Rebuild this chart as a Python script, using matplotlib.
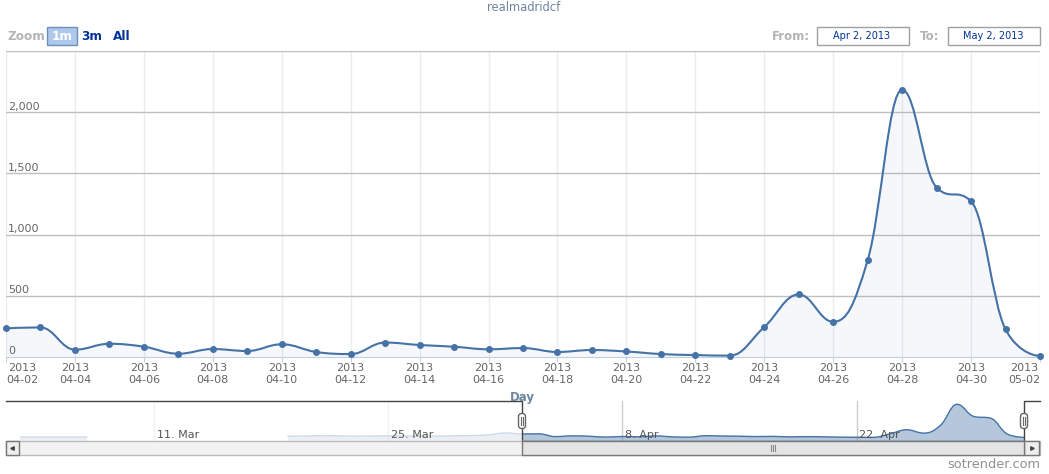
import matplotlib
matplotlib.use('Agg')
import matplotlib.pyplot as plt
from matplotlib.path import Path
from matplotlib.patches import PathPatch, Rectangle, FancyBboxPatch

# daily values 2013-04-02 .. 2013-05-02 (day 0 = Apr 2)
days = list(range(31))
values = [234, 242, 60, 108, 84, 27, 65, 49, 104, 41, 24, 118, 98, 84, 63, 73,
          41, 57, 45, 24, 16, 11, 245, 511, 288, 791, 2183, 1384, 1272, 226, 8]

tick_days = list(range(0, 31, 2))
tick_labels = ['2013\n04-%02d' % d for d in range(2, 31, 2)] + ['2013\n05-02']
y_ticks = [500, 1000, 1500, 2000, 2500]
y_labels = ['0', '500', '1,000', '1,500', '2,000']

# earlier data only shown in the navigator (days before Apr 2)
early_days_a = [-30, -29, -28, -27, -26]
early_vals_a = [30, 30, 30, 30, 30]
early_days_b = [-14, -13, -12, -11, -10, -9, -8, -7, -6, -5, -4, -3, -2, -1]
early_vals_b = [80, 100, 120, 110, 90, 100, 110, 100, 90, 100, 110, 130, 170, 300]

nav_ticks = [-22, -8, 6, 20]
nav_labels = ['11. Mar', '25. Mar', '8. Apr', '22. Apr']

line_col = '#4572A7'


def spline(xs, ys, smoothing=1.5):
    # highcharts style spline control points
    n = len(xs)
    left = [None] * n
    right = [None] * n
    for i in range(1, n - 1):
        x, y = xs[i], ys[i]
        lx, ly = xs[i - 1], ys[i - 1]
        nx, ny = xs[i + 1], ys[i + 1]
        d = smoothing + 1
        lcx = (smoothing * x + lx) / d
        lcy = (smoothing * y + ly) / d
        rcx = (smoothing * x + nx) / d
        rcy = (smoothing * y + ny) / d
        corr = (rcy - lcy) * (rcx - x) / (rcx - lcx) + y - rcy
        lcy += corr
        rcy += corr
        if lcy > ly and lcy > y:
            lcy = max(ly, y); rcy = 2 * y - lcy
        elif lcy < ly and lcy < y:
            lcy = min(ly, y); rcy = 2 * y - lcy
        if rcy > ny and rcy > y:
            rcy = max(ny, y); lcy = 2 * y - rcy
        elif rcy < ny and rcy < y:
            rcy = min(ny, y); lcy = 2 * y - rcy
        left[i] = (lcx, lcy)
        right[i] = (rcx, rcy)
    verts = [(xs[0], ys[0])]
    codes = [Path.MOVETO]
    for i in range(1, n):
        c1 = right[i - 1] or (xs[i - 1], ys[i - 1])
        c2 = left[i] or (xs[i], ys[i])
        verts += [c1, c2, (xs[i], ys[i])]
        codes += [Path.CURVE4] * 3
    return verts, codes


def area_spline(ax, xs, ys, base, lw, fc, z=2):
    v, c = spline(xs, ys)
    ax.add_patch(PathPatch(Path(v, c), fill=False, ec=line_col, lw=lw, zorder=z + 1,
                           capstyle='round', joinstyle='round'))
    fv = [(xs[0], base)] + v + [(xs[-1], base), (xs[0], base)]
    fcodes = [Path.MOVETO] + [Path.LINETO] + c[1:] + [Path.LINETO, Path.CLOSEPOLY]
    ax.add_patch(PathPatch(Path(fv, fcodes), fc=fc, ec='none', zorder=z))


W, H = 1049, 474
fig = plt.figure(figsize=(W / 100, H / 100), dpi=100)
plt.rcParams['font.family'] = 'DejaVu Sans'

# ---- main chart
ax = fig.add_axes([6 / W, 1 - 357 / H, 1034 / W, 306 / H])
ax.set_xlim(0, 30)
ax.set_ylim(0, 2500)
for s in ['top', 'left', 'right']:
    ax.spines[s].set_visible(False)
ax.spines['bottom'].set_color('#C0D0E0')
ax.set_yticks(y_ticks)
ax.tick_params(axis='y', length=0, labelleft=False)
ax.grid(axis='y', color='#c0c0c0', lw=1)
ax.set_xticks(tick_days)
ax.set_xticklabels(tick_labels, fontsize=8, color='#666666', linespacing=1.25)
ax.tick_params(axis='x', length=3.6, color='#C0D0E0', pad=1)
ax.grid(axis='x', color='#ececf0', lw=1)
ax.set_axisbelow(True)
tl = ax.get_xticklabels()
for t in tl:
    t.set_multialignment('center')
tl[0].set_horizontalalignment('left')
tl[-1].set_horizontalalignment('right')
for v, lab in zip([0] + y_ticks[:-1], y_labels):
    ax.annotate(lab, xy=(0, v), xycoords=('axes fraction', 'data'), xytext=(1.5, 0.5),
                textcoords='offset points', fontsize=8, color='#666666', va='bottom', ha='left')

area_spline(ax, days, values, 0, 1.5, (0.27, 0.45, 0.65, 0.05))
ax.plot(days, values, 'o', ms=4, color=line_col, zorder=5, clip_on=False)

# ---- navigator
nav = fig.add_axes([20 / W, 1 - 441 / H, 1004 / W, 40 / H])
nav.set_xlim(-30, 30)
nav.set_ylim(-230, 2400)
nav.axis('off')
for t in nav_ticks:
    nav.axvline(t, color='#cccccc', lw=1, zorder=1)
nav_fc = (0.27, 0.45, 0.65, 0.4)
area_spline(nav, early_days_a, early_vals_a, -230, 1, nav_fc)
area_spline(nav, early_days_b + days, early_vals_b + values, -230, 1, nav_fc)
nav.add_patch(Rectangle((-31, -230), 31, 2630, fc='white', alpha=0.75, ec='none', zorder=6))
for t, lab in zip(nav_ticks, nav_labels):
    nav.annotate(lab, xy=(t, 0), xycoords=('data', 'axes fraction'), xytext=(2, 2),
                 textcoords='offset points', fontsize=8, color='#555555', zorder=7)
px = 60 / 1004  # one pixel in nav data units
trn = nav.get_xaxis_transform()
nav.plot([-30 - 14 * px, 0, 0, 30, 30, 30 + 16 * px], [1, 1, 0, 0, 1, 1],
         transform=trn, color='#444444', lw=1, clip_on=False, zorder=8)
sh = 14 / 40
# scrollbar track, buttons and thumb
nav.add_patch(Rectangle((-30 - 14 * px, -sh), 60 + 30 * px, sh, transform=trn,
                        fc='#f2f2f2', ec='#bbbbbb', lw=1, clip_on=False, zorder=8))
nav.add_patch(Rectangle((-30 - 14 * px, -sh), 13 * px, sh, transform=trn,
                        fc='#eeeeee', ec='#777777', lw=1, clip_on=False, zorder=9))
nav.add_patch(Rectangle((30, -sh), 15 * px, sh, transform=trn,
                        fc='#eeeeee', ec='#777777', lw=1, clip_on=False, zorder=9))
nav.add_patch(Rectangle((0, -sh), 30, sh, transform=trn,
                        fc='#e4e4e4', ec='#777777', lw=1, clip_on=False, zorder=9))
nav.plot([-30 - 7.5 * px], [-sh / 2], marker='<', ms=2.5, color='#444444', transform=trn, clip_on=False, zorder=10)
nav.plot([30 + 7.5 * px], [-sh / 2], marker='>', ms=2.5, color='#444444', transform=trn, clip_on=False, zorder=10)
for k in (-2, 0, 2):
    nav.plot([15 + k * px] * 2, [-sh * 0.32, -sh * 0.68], color='#888888', lw=0.8, transform=trn,
             clip_on=False, zorder=10)

# ---- overlay for titles, handles and range selector
ov = fig.add_axes([0, 0, 1, 1], facecolor='none')
ov.set_xlim(0, W)
ov.set_ylim(H, 0)
ov.axis('off')
for hx in (0, 30):
    cx = nav.transData.transform((hx, 0))[0]
    ov.add_patch(FancyBboxPatch((cx - 3.5, 413.5), 7, 15, boxstyle='round,pad=0,rounding_size=3',
                                fc='white', ec='#666666', lw=1, zorder=11))
    for k in (-1, 1):
        ov.plot([cx + k] * 2, [417, 425], color='#666666', lw=0.8, zorder=12)
ov.text(524, 7, 'realmadridcf', ha='center', va='center', fontsize=8.3, color='#6d869f')
ov.text(7, 36, 'Zoom', ha='left', va='center', fontsize=8.7, fontweight='bold', color='#b4b4b4')
ov.add_patch(Rectangle((47, 27), 30, 18, fc='#aec8ec', ec='#6f8fb8', lw=1))
ov.text(62, 36, '1m', ha='center', va='center', fontsize=8.7, fontweight='bold', color='white')
ov.text(92, 36, '3m', ha='center', va='center', fontsize=8.7, fontweight='bold', color='#003399')
ov.text(122, 36, 'All', ha='center', va='center', fontsize=8.7, fontweight='bold', color='#003399')
ov.text(810, 36, 'From:', ha='right', va='center', fontsize=8.5, fontweight='bold', color='#b4b4b4')
ov.add_patch(Rectangle((816.5, 26.5), 92, 18, fc='white', ec='#a0a0a0', lw=1))
ov.text(862, 35.5, 'Apr 2, 2013', ha='center', va='center', fontsize=7, color='#003399')
ov.text(939, 36, 'To:', ha='right', va='center', fontsize=8.5, fontweight='bold', color='#b4b4b4')
ov.add_patch(Rectangle((947.5, 26.5), 92, 18, fc='white', ec='#a0a0a0', lw=1))
ov.text(993, 35.5, 'May 2, 2013', ha='center', va='center', fontsize=7, color='#003399')
ov.text(522, 398, 'Day', ha='center', va='center', fontsize=8.5, fontweight='bold', color='#6d869f')
ov.text(1040, 465, 'sotrender.com', ha='right', va='center', fontsize=9.3, color='#909090')

fig.savefig('out.png', dpi=100)
